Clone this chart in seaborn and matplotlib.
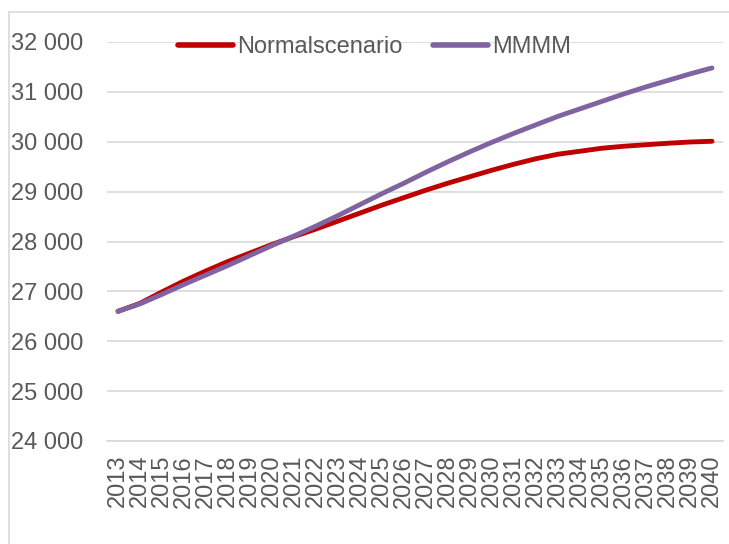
import matplotlib
matplotlib.use('Agg')
import matplotlib.pyplot as plt
import seaborn as sns
import pandas as pd
from matplotlib.lines import Line2D
from matplotlib.ticker import FuncFormatter

years = list(range(2013, 2041))
normal = [26600, 26760, 26990, 27210, 27410, 27600, 27770, 27940, 28100, 28250,
          28410, 28570, 28730, 28880, 29030, 29170, 29300, 29430, 29550, 29660,
          29750, 29810, 29870, 29910, 29940, 29970, 29995, 30010]
mmmm = [26600, 26750, 26940, 27140, 27330, 27520, 27720, 27920, 28110, 28310,
        28520, 28740, 28960, 29170, 29390, 29600, 29800, 29990, 30170, 30340,
        30510, 30660, 30810, 30960, 31100, 31230, 31360, 31480]
series_names = ['Normalscenario', 'MMMM']
colors = ['#c00000', '#8064a2']

df = pd.concat([
    pd.DataFrame({'year': years, 'value': normal, 'scenario': series_names[0]}),
    pd.DataFrame({'year': years, 'value': mmmm, 'scenario': series_names[1]}),
], ignore_index=True)

sns.set_style('white')
plt.rcParams['font.family'] = ['Liberation Sans', 'DejaVu Sans']
text_color = '#595959'
grid_color = '#d9d9d9'

fig = plt.figure(figsize=(7.29, 5.44), dpi=100)
ax = fig.add_axes([107 / 729, 1 - 441 / 544, 616 / 729, 399 / 544])

sns.lineplot(data=df, x='year', y='value', hue='scenario', palette=colors,
             linewidth=3.5, ax=ax, legend=False, zorder=3)

# Axes
ax.set_xlim(2012.5, 2040.5)
ax.set_ylim(24000, 32000)
ax.set_yticks(range(24000, 32001, 1000))
ax.yaxis.set_major_formatter(FuncFormatter(lambda v, p: f'{int(v):,}'.replace(',', ' ')))
ax.set_xticks(years)
ax.set_xticklabels([str(y) for y in years], rotation=90)
ax.set_xticks([y - 0.5 for y in years] + [2040.5], minor=True)
ax.tick_params(axis='x', which='major', length=0, pad=10, labelsize=17, labelcolor=text_color)
ax.tick_params(axis='x', which='minor', direction='in', length=5, color=grid_color, width=1)
ax.tick_params(axis='y', length=0, pad=17, labelsize=17, labelcolor=text_color)
ax.set_xlabel('')
ax.set_ylabel('')
ax.grid(axis='y', color=grid_color, linewidth=1.2)
ax.grid(axis='x', visible=False)
for side in ['left', 'right', 'top']:
    ax.spines[side].set_visible(False)
ax.spines['bottom'].set_color(grid_color)
ax.spines['bottom'].set_linewidth(1.2)

# Legend
handles = [Line2D([0], [0], color=c, linewidth=4, solid_capstyle='round') for c in colors]
ax.legend(handles, series_names, loc='center', bbox_to_anchor=(0.434, 0.987), ncol=2,
          frameon=False, fontsize=17, labelcolor=text_color, handlelength=2.35,
          handletextpad=0.15, columnspacing=1.3, borderaxespad=0, borderpad=0)

# Chart area border
fig.add_artist(Line2D([8.5 / 729, 8.5 / 729], [0, 1 - 11.5 / 544], color=grid_color, linewidth=1.2))
fig.add_artist(Line2D([8.5 / 729, 1], [1 - 11.5 / 544, 1 - 11.5 / 544], color=grid_color, linewidth=1.2))

fig.savefig('out.png', dpi=100)
